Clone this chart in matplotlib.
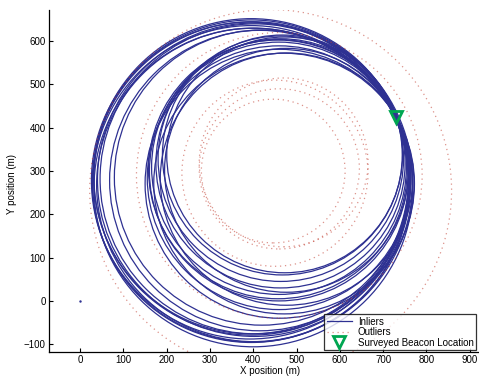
import matplotlib
matplotlib.use("Agg")
import matplotlib.pyplot as plt
from matplotlib.patches import Circle
from matplotlib.lines import Line2D

plt.rcParams['font.family'] = ['Liberation Sans', 'DejaVu Sans']

# Inlier circles: centre x, centre y, radius (m)
inlier_cx = [398, 402, 395, 395, 400, 392, 400, 396, 404, 415, 420,
             460.6, 459.6, 458.9, 459.3, 471.1, 462.8, 463.5, 476.4, 467.1, 476.7, 472.3, 456.8]
inlier_cy = [275, 280, 270, 288, 268, 278, 262, 285, 282, 278, 285,
             270.6, 284.6, 298.9, 309.3, 271.1, 317.8, 328.5, 281.4, 337.1, 301.7, 337.3, 303.8]
inlier_r = [370, 362, 366, 364, 362, 366, 368, 364, 358, 347, 341,
            310.6, 304.6, 298.9, 294.3, 301.1, 287.8, 283.5, 291.4, 277.1, 281.7, 272.3, 298.8]

# Outlier circles: centre x, centre y, radius (m)
outlier_cx = [440, 460, 450, 470, 460, 446]
outlier_cy = [255, 290, 295, 320, 305, 300]
outlier_r = [418, 330, 215, 195, 185, 166]

# Surveyed beacon location (m)
beacon_x = [730]
beacon_y = [425]

# Start point
origin_x = [0]
origin_y = [0]

xticks = [0, 100, 200, 300, 400, 500, 600, 700, 800, 900]
yticks = [-100, 0, 100, 200, 300, 400, 500, 600]

inlier_color = '#2e3192'
outlier_color = '#c0392b'
beacon_color = '#00a651'

fig = plt.figure(figsize=(4.79, 3.76), dpi=100)
ax = fig.add_axes([49/479, 1-352/376, 429/479, 342/376])

for cx, cy, r in zip(inlier_cx, inlier_cy, inlier_r):
    ax.add_patch(Circle((cx, cy), r, fill=False, edgecolor=inlier_color, linewidth=0.9))
for cx, cy, r in zip(outlier_cx, outlier_cy, outlier_r):
    ax.add_patch(Circle((cx, cy), r, fill=False, edgecolor=outlier_color, alpha=0.55,
                        linewidth=0.9, linestyle=(0, (1, 3))))

ax.plot(origin_x, origin_y, '.', color=inlier_color, markersize=1.5)
ax.plot(beacon_x, beacon_y, 'v', markerfacecolor='none', markeredgecolor=beacon_color,
        markeredgewidth=2, markersize=8.5, zorder=5)

ax.set_xlim(-72, 919)
ax.set_ylim(-118, 672)
ax.set_aspect('auto')
ax.set_xticks(xticks)
ax.set_yticks(yticks)
ax.set_yticklabels(['\u2212100' if v == -100 else str(v) for v in yticks])
ax.tick_params(direction='in', length=3, labelsize=7, width=0.8, pad=2.5)
ax.spines['top'].set_visible(False)
ax.spines['right'].set_visible(False)
ax.spines['left'].set_linewidth(0.9)
ax.spines['bottom'].set_linewidth(0.9)

ax.set_xlabel('X position (m)', fontsize=7)
ax.set_ylabel('Y position (m)', fontsize=7)
ax.xaxis.set_label_coords(0.515, -0.041)
ax.yaxis.set_label_coords(-0.075, 0.49)

handles = [
    Line2D([], [], color=inlier_color, linewidth=0.9),
    Line2D([], [], color=outlier_color, alpha=0.55, linewidth=0.9, linestyle=(0, (1, 3))),
    Line2D([], [], linestyle='none', marker='v', markerfacecolor='none',
           markeredgecolor=beacon_color, markeredgewidth=2, markersize=8.5),
]
leg = ax.legend(handles, ['Inliers', 'Outliers', 'Surveyed Beacon Location'],
                loc='lower right', fontsize=7, frameon=True, fancybox=False,
                borderaxespad=0.2, handlelength=2.6, handletextpad=0.6,
                labelspacing=0.05, borderpad=0.25)
leg.get_frame().set_edgecolor('black')
leg.get_frame().set_linewidth(0.9)

fig.savefig('out.png', dpi=100)
